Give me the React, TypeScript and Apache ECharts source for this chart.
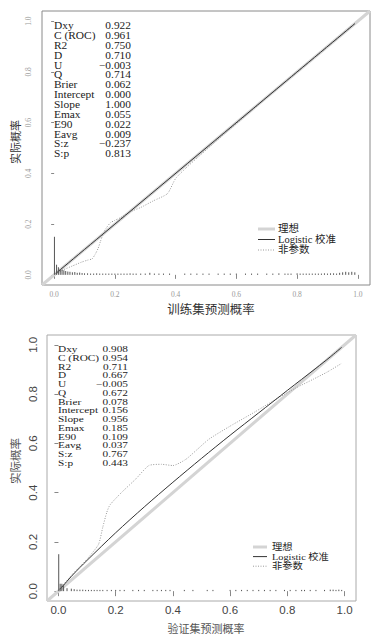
import React, { useEffect, useRef } from "react";
import * as echarts from "echarts";

// ---------- data ----------
const tickValues = [0, 0.2, 0.4, 0.6, 0.8, 1.0];

const statNames = ["Dxy", "C (ROC)", "R2", "D", "U", "Q", "Brier", "Intercept", "Slope", "Emax", "E90", "Eavg", "S:z", "S:p"];
const trainStats = ["0.922", "0.961", "0.750", "0.710", "\u22120.003", "0.714", "0.062", "0.000", "1.000", "0.055", "0.022", "0.009", "\u22120.237", "0.813"];
const validStats = ["0.908", "0.954", "0.711", "0.667", "\u22120.005", "0.672", "0.078", "0.156", "0.956", "0.185", "0.109", "0.037", "0.767", "0.443"];

const legendNames = ["理想", "Logistic 校准", "非参数"];

const idealX = [-0.04, 1.04];
const idealY = [-0.04, 1.04];

// training set
const trainLogitX = [0.005, 0.25, 0.5, 0.75, 0.99];
const trainLogitY = [0.005, 0.25, 0.5, 0.75, 0.99];
const trainNpX = [0.004, 0.03, 0.06, 0.09, 0.11, 0.125, 0.136, 0.145, 0.153, 0.161, 0.169, 0.185, 0.2, 0.218, 0.251, 0.284, 0.327, 0.373, 0.4, 0.433, 0.47, 0.55, 0.65, 0.75, 0.85, 0.93, 0.99];
const trainNpY = [0.004, 0.02, 0.035, 0.05, 0.058, 0.063, 0.083, 0.105, 0.134, 0.16, 0.18, 0.205, 0.215, 0.225, 0.249, 0.265, 0.292, 0.32, 0.38, 0.42, 0.46, 0.545, 0.648, 0.75, 0.85, 0.93, 0.99];
const trainRugX = [0.001, 0.008, 0.014, 0.02, 0.026, 0.032, 0.038, 0.045, 0.052, 0.06, 0.068, 0.076, 0.084, 0.092, 0.1, 0.11, 0.12, 0.13, 0.14, 0.15, 0.16, 0.17, 0.18, 0.19, 0.2, 0.21, 0.22, 0.23, 0.24, 0.25, 0.26, 0.27, 0.285, 0.3, 0.315, 0.33, 0.345, 0.36, 0.38, 0.43, 0.45, 0.47, 0.49, 0.51, 0.54, 0.56, 0.58, 0.6, 0.63, 0.65, 0.67, 0.7, 0.72, 0.74, 0.76, 0.77, 0.78, 0.8, 0.81, 0.82, 0.83, 0.84, 0.85, 0.86, 0.87, 0.88, 0.89, 0.9, 0.91, 0.92, 0.93, 0.94, 0.95, 0.96, 0.97, 0.98, 0.99];
const trainRugH = [0.15, 0.04, 0.03, 0.022, 0.02, 0.018, 0.015, 0.013, 0.012, 0.01, 0.011, 0.008, 0.009, 0.007, 0.006, 0.006, 0.005, 0.005, 0.006, 0.005, 0.005, 0.005, 0.005, 0.005, 0.005, 0.005, 0.005, 0.005, 0.005, 0.006, 0.005, 0.005, 0.005, 0.005, 0.008, 0.005, 0.005, 0.005, 0.005, 0.005, 0.005, 0.005, 0.005, 0.005, 0.005, 0.005, 0.005, 0.005, 0.005, 0.005, 0.005, 0.005, 0.005, 0.006, 0.005, 0.005, 0.005, 0.006, 0.005, 0.005, 0.005, 0.005, 0.005, 0.005, 0.005, 0.005, 0.006, 0.005, 0.006, 0.006, 0.005, 0.008, 0.01, 0.012, 0.01, 0.012, 0.01];

// validation set
const validLogitX = [0.005, 0.05, 0.1, 0.2, 0.3, 0.4, 0.5, 0.6, 0.7, 0.8, 0.9, 0.95, 0.99];
const validLogitY = [0.007, 0.066, 0.125, 0.237, 0.342, 0.442, 0.539, 0.633, 0.724, 0.815, 0.905, 0.951, 0.99];
const validNpX = [0.005, 0.05, 0.1, 0.14, 0.155, 0.169, 0.18, 0.22, 0.27, 0.316, 0.36, 0.4, 0.445, 0.48, 0.526, 0.6, 0.69, 0.77, 0.83, 0.89, 0.94, 0.99];
const validNpY = [0.01, 0.07, 0.13, 0.19, 0.26, 0.32, 0.35, 0.4, 0.455, 0.51, 0.515, 0.51, 0.535, 0.57, 0.617, 0.67, 0.73, 0.786, 0.825, 0.86, 0.89, 0.925];
const validRugX = [0.001, 0.006, 0.012, 0.018, 0.03, 0.045, 0.055, 0.065, 0.075, 0.085, 0.095, 0.105, 0.115, 0.125, 0.135, 0.145, 0.155, 0.17, 0.185, 0.2, 0.215, 0.23, 0.26, 0.28, 0.3, 0.33, 0.345, 0.36, 0.375, 0.39, 0.44, 0.47, 0.52, 0.54, 0.6, 0.62, 0.64, 0.66, 0.68, 0.7, 0.72, 0.74, 0.76, 0.79, 0.81, 0.83, 0.85, 0.86, 0.88, 0.9, 0.93, 0.95, 0.96, 0.97, 0.98, 0.99];
const validRugH = [0.15, 0.03, 0.03, 0.025, 0.012, 0.01, 0.008, 0.006, 0.006, 0.006, 0.005, 0.005, 0.005, 0.005, 0.005, 0.005, 0.005, 0.005, 0.005, 0.005, 0.005, 0.005, 0.005, 0.005, 0.005, 0.005, 0.005, 0.005, 0.005, 0.005, 0.005, 0.005, 0.005, 0.005, 0.005, 0.005, 0.005, 0.005, 0.005, 0.005, 0.005, 0.005, 0.005, 0.005, 0.005, 0.005, 0.005, 0.005, 0.005, 0.005, 0.005, 0.006, 0.006, 0.005, 0.006, 0.005];

// ---------- helpers ----------
const zip = (xs: number[], ys: number[]) => xs.map((x, i) => [x, ys[i]]);
const SERIF = "'Liberation Serif', 'DejaVu Serif', serif";
const CJK = "'Noto Sans CJK SC', sans-serif";

const rugRender = (params: any, api: any) => {
  const p0 = api.coord([api.value(0), 0]);
  const p1 = api.coord([api.value(0), api.value(1)]);
  return {
    type: "line",
    shape: { x1: p0[0], y1: p0[1], x2: p1[0], y2: p1[1] },
    style: { stroke: "#555", lineWidth: 1 },
  };
};

function panelSeries(idx: number, logitX: number[], logitY: number[], npX: number[], npY: number[], rugX: number[], rugH: number[]) {
  return [
    {
      type: "line", xAxisIndex: idx, yAxisIndex: idx, data: zip(idealX, idealY),
      symbol: "none", silent: true, lineStyle: { color: "#d4d4d4", width: 3 }, z: 1,
    },
    {
      type: "line", xAxisIndex: idx, yAxisIndex: idx, data: zip(npX, npY),
      symbol: "none", silent: true, smooth: 0.2, lineStyle: { color: "#9a9a9a", width: 1, type: [1, 1.5] }, z: 2,
    },
    {
      type: "line", xAxisIndex: idx, yAxisIndex: idx, data: zip(logitX, logitY),
      symbol: "none", silent: true, smooth: 0.3, lineStyle: { color: "#333", width: 1 }, z: 3,
    },
    {
      type: "custom", xAxisIndex: idx, yAxisIndex: idx, data: zip(rugX, rugH),
      renderItem: rugRender, encode: { x: 0, y: 1 }, silent: true, z: 4,
    },
  ];
}

function statsGraphics(names: string[], vals: string[], xl: number, xr: number, yFirst: number, dy: number, fs: number, sx: number) {
  const out: any[] = [];
  names.forEach((n, i) => {
    const y = yFirst + i * dy;
    const base = { font: `${fs}px ${SERIF}`, fill: "#222", textVerticalAlign: "middle" };
    out.push({ type: "text", x: xl, y, scaleX: sx, style: { ...base, text: n, textAlign: "left" } });
    out.push({ type: "text", x: xr, y, scaleX: sx, style: { ...base, text: vals[i], textAlign: "right" } });
  });
  return out;
}

function legendGraphics(x1: number, x2: number, tx: number, yFirst: number, dy: number, fs: number, sx: number) {
  const styles = [
    { stroke: "#d4d4d4", lineWidth: 3 },
    { stroke: "#333", lineWidth: 1 },
    { stroke: "#9a9a9a", lineWidth: 1, lineDash: [1, 1.5] },
  ];
  const out: any[] = [];
  legendNames.forEach((n, i) => {
    const y = yFirst + i * dy;
    out.push({ type: "line", shape: { x1, y1: y, x2, y2: y }, style: styles[i] });
    out.push({
      type: "text", x: tx, y, scaleX: sx,
      style: { text: n, font: `${fs}px ${SERIF}, ${CJK}`, fill: "#222", textAlign: "left", textVerticalAlign: "middle" },
    });
  });
  return out;
}

function axisPair(gridIndex: number, small: boolean) {
  const labelStyle = small
    ? { fontFamily: SERIF, fontSize: 7.5, color: "#999" }
    : { fontFamily: "'Liberation Sans', Arial, sans-serif", fontSize: 11.5, color: "#444" };
  const x = {
    type: "value", gridIndex, min: -0.04, max: 1.04,
    axisLine: { show: false }, splitLine: { show: false },
    axisTick: { show: true, length: small ? 4 : 5, customValues: tickValues, lineStyle: { color: "#888" } },
    axisLabel: { customValues: tickValues, formatter: (v: number) => v.toFixed(1), margin: small ? 5 : 3, ...labelStyle },
  };
  const y = {
    type: "value", gridIndex, min: -0.04, max: 1.04, offset: small ? 6 : 3,
    axisLine: { show: false }, splitLine: { show: false },
    axisTick: { show: true, length: small ? 3 : 4, customValues: tickValues, lineStyle: { color: "#888" } },
    axisLabel: { customValues: tickValues, formatter: (v: number) => v.toFixed(1), rotate: 90, margin: small ? 4 : 5, ...labelStyle },
  };
  return { x, y };
}

export default function App() {
  const ref = useRef<HTMLDivElement>(null);
  useEffect(() => {
    if (!ref.current) return;
    const chart = echarts.init(ref.current, null, { renderer: "svg" });
    const a0 = axisPair(0, true);
    const a1 = axisPair(1, false);
    const option: any = {
      animation: false,
      backgroundColor: "#fff",
      grid: [
        { left: 42, top: 11, width: 328, height: 274, show: true, borderColor: "#8a8a8a", borderWidth: 1, backgroundColor: "transparent" },
        { left: 47, top: 335, width: 309, height: 266, show: true, borderColor: "#aaa", borderWidth: 1, backgroundColor: "transparent" },
      ],
      xAxis: [a0.x, a1.x],
      yAxis: [a0.y, a1.y],
      series: [
        ...panelSeries(0, trainLogitX, trainLogitY, trainNpX, trainNpY, trainRugX, trainRugH),
        ...panelSeries(1, validLogitX, validLogitY, validNpX, validNpY, validRugX, validRugH),
      ],
      graphic: [
        ...statsGraphics(statNames, trainStats, 54, 131, 26, 9.85, 9.5, 1.2),
        ...statsGraphics(statNames, validStats, 58, 128, 349, 8.77, 8.5, 1.33),
        ...legendGraphics(258, 275, 278, 229, 10.5, 10, 1.05),
        ...legendGraphics(253, 267, 272, 547, 9.6, 9.2, 1.12),
        { type: "text", x: 211, y: 308, style: { text: "训练集预测概率", font: `12.5px ${CJK}`, fill: "#333", textAlign: "center", textVerticalAlign: "middle" } },
        { type: "text", x: 206, y: 628, style: { text: "验证集预测概率", font: `11px ${CJK}`, fill: "#555", textAlign: "center", textVerticalAlign: "middle" } },
        { type: "text", x: 15, y: 142, rotation: Math.PI / 2, style: { text: "实际概率", font: `11px ${CJK}`, fill: "#333", textAlign: "center", textVerticalAlign: "middle" } },
        { type: "text", x: 15, y: 461, rotation: Math.PI / 2, style: { text: "实际概率", font: `11.5px ${CJK}`, fill: "#555", textAlign: "center", textVerticalAlign: "middle" } },
      ],
    };
    chart.setOption(option);
    return () => chart.dispose();
  }, []);
  return <div ref={ref} style={{ position: "fixed", left: 0, top: 0, width: 391, height: 639 }} />;
}
